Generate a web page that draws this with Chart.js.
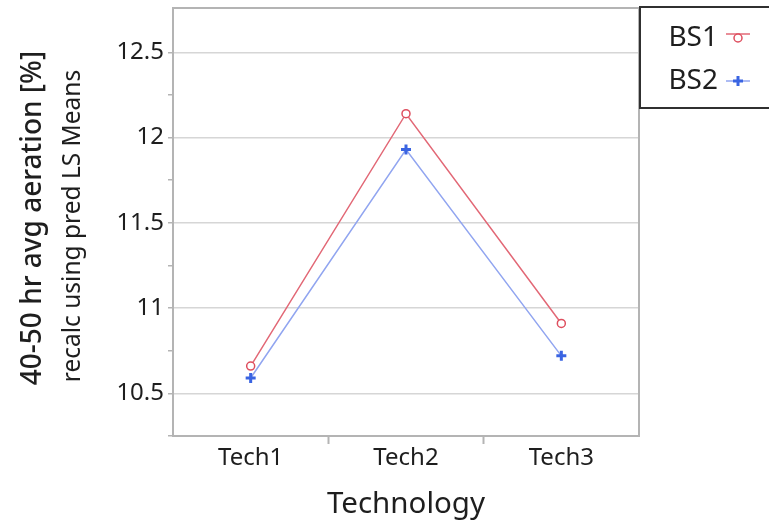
<!DOCTYPE html>
<html>
<head>
<meta charset="utf-8">
<script src="https://cdn.jsdelivr.net/npm/chart.js@4/dist/chart.umd.min.js"></script>
<style>
  html, body { margin: 0; padding: 0; background: #ffffff; }
  #wrap { width: 769px; height: 523px; position: relative; }
</style>
</head>
<body>
<div id="wrap"><canvas id="chart"></canvas></div>
<script>
// Least-squares means of 40-50 hr average aeration by technology
const categories = ['Tech1', 'Tech2', 'Tech3'];
const seriesNames = ['BS1', 'BS2'];
const bs1Values = [10.66, 12.14, 10.91];
const bs2Values = [10.59, 11.93, 10.72];
const majorTicks = [10.5, 11, 11.5, 12, 12.5];
const minorTicks = [10.25, 10.75, 11.25, 11.75, 12.25];
const yTitle = '40-50 hr avg aeration [%]';
const ySubtitle = 'recalc using pred LS Means';
const xTitle = 'Technology';

const FONT = '"Noto Sans", "Open Sans", sans-serif';
const RED_LINE = 'rgb(226, 104, 118)';
const RED_MARK = 'rgb(222, 78, 94)';
const BLUE_LINE = 'rgb(145, 165, 240)';
const BLUE_MARK = 'rgb(58, 100, 226)';
const FRAME = '#b4b4b4';
const GRID = '#d6d6d6';
const TEXT = '#1e1e1e';

// Plot frame (top/right/bottom/left box)
const framePlugin = {
  id: 'frame',
  beforeDatasetsDraw(chart) {
    const { ctx, chartArea: a } = chart;
    ctx.save();
    ctx.strokeStyle = FRAME;
    ctx.lineWidth = 2;
    ctx.strokeRect(a.left, a.top, a.right - a.left, a.bottom - a.top);
    ctx.restore();
  }
};

// Two-line rotated y axis title
const yTitlePlugin = {
  id: 'yTitles',
  afterDraw(chart) {
    const { ctx, chartArea: a } = chart;
    const cy = (a.top + a.bottom) / 2;
    const lines = [
      { text: yTitle, x: 33, y: cy - 4, font: '500 28px ' + FONT },
      { text: ySubtitle, x: 73, y: cy + 4, font: '24.5px ' + FONT }
    ];
    lines.forEach((l) => {
      ctx.save();
      ctx.fillStyle = TEXT;
      ctx.textAlign = 'center';
      ctx.textBaseline = 'middle';
      ctx.translate(l.x, l.y);
      ctx.rotate(-Math.PI / 2);
      ctx.font = l.font;
      ctx.fillText(l.text, 0, 0);
      ctx.restore();
    });
  }
};

// Boxed legend: label text followed by a line-and-marker sample
const legendPlugin = {
  id: 'boxLegend',
  afterDraw(chart) {
    const { ctx } = chart;
    ctx.save();
    ctx.strokeStyle = '#303030';
    ctx.lineWidth = 2;
    ctx.strokeRect(640, 7, 140, 101);
    ctx.font = '28px ' + FONT;
    ctx.textAlign = 'right';
    ctx.textBaseline = 'middle';
    ctx.fillStyle = TEXT;
    const rows = [38, 81];
    chart.data.datasets.forEach((ds, i) => {
      const y = rows[i];
      ctx.fillText(ds.label, 718, y);
      ctx.lineWidth = 1.5;
      ctx.strokeStyle = ds.borderColor;
      if (i === 0) {
        ctx.beginPath();
        ctx.moveTo(726, y - 4); ctx.lineTo(750, y - 4);
        ctx.stroke();
        ctx.beginPath();
        ctx.fillStyle = '#ffffff';
        ctx.strokeStyle = ds.pointBorderColor;
        ctx.arc(738, y, 4, 0, Math.PI * 2);
        ctx.fill(); ctx.stroke();
        ctx.fillStyle = TEXT;
      } else {
        ctx.beginPath();
        ctx.moveTo(726, y); ctx.lineTo(750, y);
        ctx.stroke();
        ctx.strokeStyle = ds.pointBorderColor;
        ctx.lineWidth = 3;
        ctx.beginPath();
        ctx.moveTo(733, y); ctx.lineTo(743, y);
        ctx.moveTo(738, y - 5); ctx.lineTo(738, y + 5);
        ctx.stroke();
      }
    });
    ctx.restore();
  }
};

new Chart(document.getElementById('chart'), {
  type: 'line',
  data: {
    labels: categories,
    datasets: [
      {
        label: seriesNames[0],
        data: bs1Values,
        borderColor: RED_LINE,
        borderWidth: 1.5,
        pointStyle: 'circle',
        pointRadius: 4,
        pointBorderWidth: 1.5,
        pointBorderColor: RED_MARK,
        pointBackgroundColor: '#ffffff',
        tension: 0
      },
      {
        label: seriesNames[1],
        data: bs2Values,
        borderColor: BLUE_LINE,
        borderWidth: 1.5,
        pointStyle: 'cross',
        pointRadius: 5,
        pointBorderWidth: 3,
        pointBorderColor: BLUE_MARK,
        pointBackgroundColor: BLUE_MARK,
        tension: 0
      }
    ]
  },
  options: {
    responsive: true,
    maintainAspectRatio: false,
    animation: false,
    layout: { padding: { top: 6, right: 130, bottom: 0, left: 0 } },
    plugins: {
      legend: { display: false },
      tooltip: { enabled: false }
    },
    scales: {
      x: {
        type: 'category',
        offset: true,
        border: { display: false },
        grid: {
          offset: true,
          drawOnChartArea: false,
          drawTicks: true,
          tickLength: 8,
          tickWidth: 2,
          tickColor: (c) => (c.index === 1 || c.index === 2) ? FRAME : 'rgba(0,0,0,0)'
        },
        ticks: {
          color: TEXT,
          padding: 0,
          font: { family: FONT, size: 24 }
        },
        title: {
          display: true,
          text: xTitle,
          color: TEXT,
          padding: { top: 0, bottom: 1 },
          font: { family: FONT, size: 29.5 }
        },
        afterFit(scale) {
          scale.height = 87;
          scale.paddingLeft = 0;
          scale.paddingRight = 0;
        }
      },
      y: {
        type: 'linear',
        min: 10.25,
        max: 12.76,
        border: { display: false },
        afterBuildTicks(scale) {
          scale.ticks = majorTicks.concat(minorTicks)
            .sort((a, b) => a - b)
            .map(v => ({ value: v }));
        },
        grid: {
          color: (c) => (c.tick && majorTicks.includes(c.tick.value)) ? GRID : 'rgba(0,0,0,0)',
          lineWidth: 1.5,
          tickColor: FRAME,
          tickWidth: 1.5,
          tickLength: 5
        },
        ticks: {
          autoSkip: false,
          color: TEXT,
          padding: 4,
          font: { family: FONT, size: 24 },
          callback: (v) => majorTicks.includes(v) ? String(v) : ''
        },
        afterFit(scale) {
          scale.width = 173;
          scale.paddingTop = 0;
          scale.paddingBottom = 0;
        }
      }
    }
  },
  plugins: [framePlugin, yTitlePlugin, legendPlugin]
});
</script>
</body>
</html>
